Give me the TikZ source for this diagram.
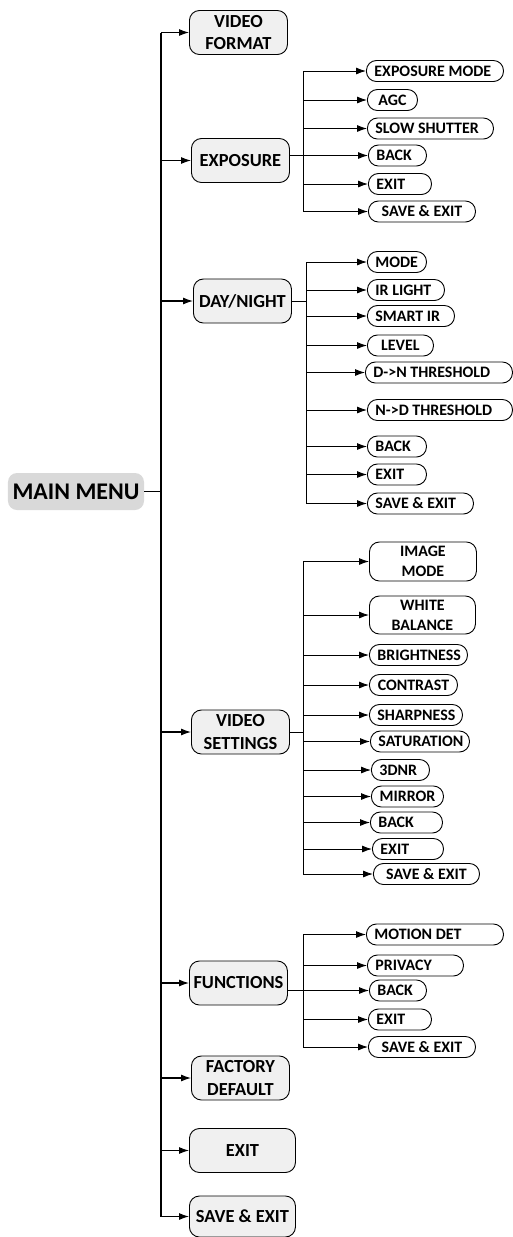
\documentclass[tikz,border=0pt]{standalone}
\usepackage{fontspec}
\setmainfont{Carlito}
\usepackage{tikz}
\usetikzlibrary{arrows.meta,positioning,calc}

\begin{document}
\begin{tikzpicture}[
x=1bp, y=-1bp, >={Latex[length=10bp,width=7bp]}, line width=0.9bp,
main-node/.style = {rounded corners=9bp, fill=black!15, minimum width=136bp, minimum height=37bp, inner sep=2bp, font=\bfseries\fontsize{24}{28}\selectfont},
menu-node/.style = {draw=black, rounded corners=10bp, fill=black!6, anchor=west, minimum width=#1bp, minimum height=44bp, inner sep=2bp, align=center, font=\bfseries\fontsize{18.5}{22.5}\selectfont},
menu-node/.default = 98,
sub-node/.style = {draw=black, rounded corners=10bp, fill=white, anchor=west, text width=#1bp-16bp, inner xsep=8bp, inner ysep=2bp, minimum height=21bp, align=flush left, font=\bfseries\fontsize{16}{20}\selectfont}
]
\useasboundingbox (0,0) rectangle (513,1237);

\node [main-node] (main) at (76, 491.5) {MAIN MENU};

% menu
\node [menu-node] (vf) at (189, 32.5) {VIDEO\\FORMAT};
\node [menu-node] (exp) at (191, 160.5) {EXPOSURE};
\node [menu-node] (dn) at (193, 301) {DAY/NIGHT};
\node [menu-node] (vs) at (191, 732) {VIDEO\\SETTINGS};
\node [menu-node] (fn) at (189, 983) {FUNCTIONS};
\node [menu-node] (fd) at (191, 1078) {FACTORY\\DEFAULT};
\node [menu-node=106] (ex) at (189, 1150.5) {EXIT};
\node [menu-node=106, minimum height=41bp] (se) at (189, 1216.5) {SAVE \& EXIT};

% exposure
\node [sub-node=137] (e1) at (366, 71) {EXPOSURE MODE};
\node [sub-node=50, align=flush center] (e2) at (367, 100) {AGC};
\node [sub-node=126] (e3) at (367, 128.5) {SLOW SHUTTER};
\node [sub-node=58] (e4) at (368, 155.5) {BACK};
\node [sub-node=63] (e5) at (368, 184) {EXIT};
\node [sub-node=107, align=flush center] (e6) at (368, 211.5) {SAVE \& EXIT};

% day/night
\node [sub-node=59] (d1) at (367, 262) {MODE};
\node [sub-node=77] (d2) at (367, 290) {IR LIGHT};
\node [sub-node=87] (d3) at (367, 316) {SMART IR};
\node [sub-node=66, align=flush center] (d4) at (367, 345.5) {LEVEL};
\node [sub-node=147] (d5) at (365, 372.5) {D->N THRESHOLD};
\node [sub-node=145] (d6) at (367, 410) {N->D THRESHOLD};
\node [sub-node=59] (d7) at (367, 446.5) {BACK};
\node [sub-node=59] (d8) at (367, 474.5) {EXIT};
\node [sub-node=106] (d9) at (367, 503.5) {SAVE \& EXIT};

% video settings
\node [sub-node=107, align=flush center, minimum height=39bp] (v1) at (369, 561.5) {IMAGE\\MODE};
\node [sub-node=106, align=flush center, minimum height=38bp] (v2) at (369, 615) {WHITE\\BALANCE};
\node [sub-node=98, align=flush center] (v3) at (369, 655) {BRIGHTNESS};
\node [sub-node=88, align=flush center] (v4) at (369, 685) {CONTRAST};
\node [sub-node=93, align=flush center] (v5) at (369, 715) {SHARPNESS};
\node [sub-node=99, align=flush center] (v6) at (370, 741.5) {SATURATION};
\node [sub-node=58] (v7) at (371, 770) {3DNR};
\node [sub-node=72, align=flush center] (v8) at (371, 796.5) {MIRROR};
\node [sub-node=72] (v9) at (370, 822.5) {BACK};
\node [sub-node=71] (v10) at (372, 849) {EXIT};
\node [sub-node=106, align=flush center] (v11) at (373, 874) {SAVE \& EXIT};

% functions
\node [sub-node=137] (f1) at (366, 934.5) {MOTION DET};
\node [sub-node=96] (f2) at (367, 965.5) {PRIVACY};
\node [sub-node=57] (f3) at (369, 990.5) {BACK};
\node [sub-node=63] (f4) at (368, 1019.5) {EXIT};
\node [sub-node=107, align=flush center] (f5) at (368, 1047) {SAVE \& EXIT};

% buses
\coordinate (trunk) at (161, 0);
\coordinate (expbus) at (303, 0);
\coordinate (dnbus) at (306, 0);
\coordinate (vsbus) at (303, 0);
\coordinate (fnbus) at (303, 0);

% arrows
\draw[line width=1.3bp] (main.east) -- (main.east -| trunk);
\draw[line width=1.3bp] (trunk |- vf.west) -- (trunk |- se.west);
\draw[->, line width=1.1bp] (trunk |- vf.west) -- (vf.west);
\draw[->, line width=1.1bp] (trunk |- exp.west) -- (exp.west);
\draw[->, line width=1.1bp] (trunk |- dn.west) -- (dn.west);
\draw[->, line width=1.1bp] (trunk |- vs.west) -- (vs.west);
\draw[->, line width=1.1bp] (trunk |- fn.west) -- (fn.west);
\draw[->, line width=1.1bp] (trunk |- fd.west) -- (fd.west);
\draw[->, line width=1.1bp] (trunk |- ex.west) -- (ex.west);
\draw[->, line width=1.1bp] (trunk |- se.west) -- (se.west);

\draw (exp.east |- e4.west) -- (expbus |- e4.west);
\draw (expbus |- e1.west) -- (expbus |- e6.west);
\draw[->] (expbus |- e1.west) -- (e1.west);
\draw[->] (expbus |- e2.west) -- (e2.west);
\draw[->] (expbus |- e3.west) -- (e3.west);
\draw[->] (expbus |- e4.west) -- (e4.west);
\draw[->] (expbus |- e5.west) -- (e5.west);
\draw[->] (expbus |- e6.west) -- (e6.west);

\draw (dn.east) -- (dn.east -| dnbus);
\draw (dnbus |- d1.west) -- (dnbus |- d9.west);
\draw[->] (dnbus |- d1.west) -- (d1.west);
\draw[->] (dnbus |- d2.west) -- (d2.west);
\draw[->] (dnbus |- d3.west) -- (d3.west);
\draw[->] (dnbus |- d4.west) -- (d4.west);
\draw[->] (dnbus |- d5.west) -- (d5.west);
\draw[->] (dnbus |- d6.west) -- (d6.west);
\draw[->] (dnbus |- d7.west) -- (d7.west);
\draw[->] (dnbus |- d8.west) -- (d8.west);
\draw[->] (dnbus |- d9.west) -- (d9.west);

\draw (vs.east) -- (vs.east -| vsbus);
\draw (vsbus |- v1.west) -- (vsbus |- v11.west);
\draw[->] (vsbus |- v1.west) -- (v1.west);
\draw[->] (vsbus |- v2.west) -- (v2.west);
\draw[->] (vsbus |- v3.west) -- (v3.west);
\draw[->] (vsbus |- v4.west) -- (v4.west);
\draw[->] (vsbus |- v5.west) -- (v5.west);
\draw[->] (vsbus |- v6.west) -- (v6.west);
\draw[->] (vsbus |- v7.west) -- (v7.west);
\draw[->] (vsbus |- v8.west) -- (v8.west);
\draw[->] (vsbus |- v9.west) -- (v9.west);
\draw[->] (vsbus |- v10.west) -- (v10.west);
\draw[->] (vsbus |- v11.west) -- (v11.west);

\draw (fn.east |- f3.west) -- (fnbus |- f3.west);
\draw (fnbus |- f1.west) -- (fnbus |- f5.west);
\draw[->] (fnbus |- f1.west) -- (f1.west);
\draw[->] (fnbus |- f2.west) -- (f2.west);
\draw[->] (fnbus |- f3.west) -- (f3.west);
\draw[->] (fnbus |- f4.west) -- (f4.west);
\draw[->] (fnbus |- f5.west) -- (f5.west);

\end{tikzpicture}
\end{document}
